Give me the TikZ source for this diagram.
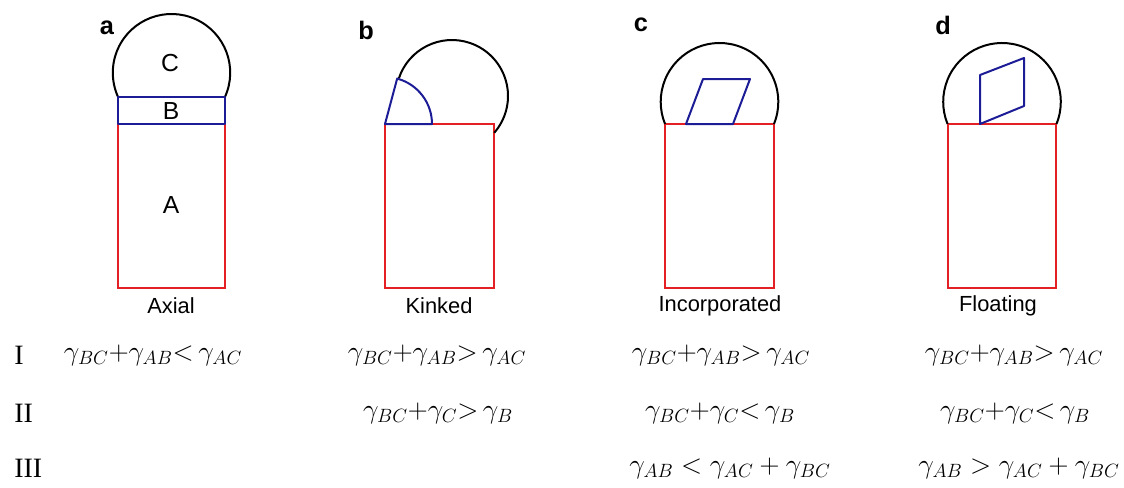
\documentclass[tikz,border=0pt]{standalone}
\usepackage{fontspec}
\setmainfont{Liberation Sans}
\newfontfamily\numfont{Liberation Serif}
\definecolor{cred}{RGB}{228,32,36}
\definecolor{cblue}{RGB}{28,28,150}
\begin{document}
\begin{tikzpicture}[x=0.75pt,y=0.75pt,
  redbox/.style={draw=cred,line width=1.5pt},
  bluebox/.style={draw=cblue,line width=1.5pt,line join=round},
  drop/.style={draw=black,line width=1.5pt},
  panellbl/.style={font=\fontsize{19}{22}\selectfont\bfseries,inner sep=0pt},
  partlbl/.style={font=\fontsize{18.5}{22}\selectfont,inner sep=0pt},
  caption/.style={font=\fontsize{16.4}{19}\selectfont,inner sep=0pt},
  eqn/.style={font=\fontsize{21.5}{25}\selectfont,inner sep=0pt},
  rnum/.style={font=\numfont\fontsize{21}{24}\selectfont,inner sep=0pt,anchor=west}]
\useasboundingbox (0,0) rectangle (1124,487);
% ---------- panel a ----------
\draw[redbox] (118,199) rectangle (225,363);
\draw[drop] ([shift={(171.5,414.3)}]-24.4:58.7) arc[start angle=-24.4,end angle=204.4,radius=58.7];
\draw[bluebox] (118,363) rectangle (225,390);
\node[panellbl] (la) at (107,459) {a};
\node[partlbl] (pc) at (170,424) {C};
\node[partlbl] (pb) at (171,376) {B};
\node[partlbl] (pa) at (171,282) {A};
\node[caption] (ca) at (171,181) {Axial};
% ---------- panel b ----------
\draw[redbox] (385,199) rectangle (494,363);
\draw[drop] ([shift={(452,391)}]161.5:56) arc[start angle=161.5,end angle=-41,radius=56];
\draw[bluebox] (385,363) -- (432,363) arc[start angle=0,end angle=75,radius=47] -- cycle;
\node[panellbl] (lb) at (366,457) {b};
\node[caption] (cb) at (439,181) {Kinked};
% ---------- panel c ----------
\draw[redbox] (665,199) rectangle (774,363);
\draw[drop] ([shift={(719.5,385.2)}]-22.2:58.8) arc[start angle=-22.2,end angle=202.2,radius=58.8];
\draw[bluebox] (686,363) -- (733,363) -- (750,408) -- (703,408) -- cycle;
\node[panellbl] (lc) at (641,462) {c};
\node[caption] (cc) at (720,181) {Incorporated};
% ---------- panel d ----------
\draw[redbox] (948,199) rectangle (1056,363);
\draw[drop] ([shift={(1002,385.2)}]-22.2:58.8) arc[start angle=-22.2,end angle=202.2,radius=58.8];
\draw[bluebox] (980,363) -- (980,412) -- (1024,429) -- (1024,381) -- cycle;
\node[panellbl] (ld) at (943,462) {d};
\node[caption] (cd) at (998,181) {Floating};
% ---------- conditions ----------
\node[rnum] (r1) at (14,132) {I};
\node[rnum] (r2) at (14,74) {II};
\node[rnum] (r3) at (14,19) {III};
\node[eqn] (ea1) at (153,132) {$\gamma_{BC}{+}\gamma_{AB}{<}\,\gamma_{AC}$};
\node[eqn] (eb1) at (437,132) {$\gamma_{BC}{+}\gamma_{AB}{>}\,\gamma_{AC}$};
\node[eqn] (eb2) at (438,74) {$\gamma_{BC}{+}\gamma_{C}{>}\,\gamma_{B}$};
\node[eqn] (ec1) at (721,132) {$\gamma_{BC}{+}\gamma_{AB}{>}\,\gamma_{AC}$};
\node[eqn] (ec2) at (720,74) {$\gamma_{BC}{+}\gamma_{C}{<}\,\gamma_{B}$};
\node[eqn] (ec3) at (730,19) {$\gamma_{AB} < \gamma_{AC} + \gamma_{BC}$};
\node[eqn] (ed1) at (1014,132) {$\gamma_{BC}{+}\gamma_{AB}{>}\,\gamma_{AC}$};
\node[eqn] (ed2) at (1015,74) {$\gamma_{BC}{+}\gamma_{C}{<}\,\gamma_{B}$};
\node[eqn] (ed3) at (1019,19) {$\gamma_{AB} > \gamma_{AC} + \gamma_{BC}$};
\end{tikzpicture}
\end{document}
